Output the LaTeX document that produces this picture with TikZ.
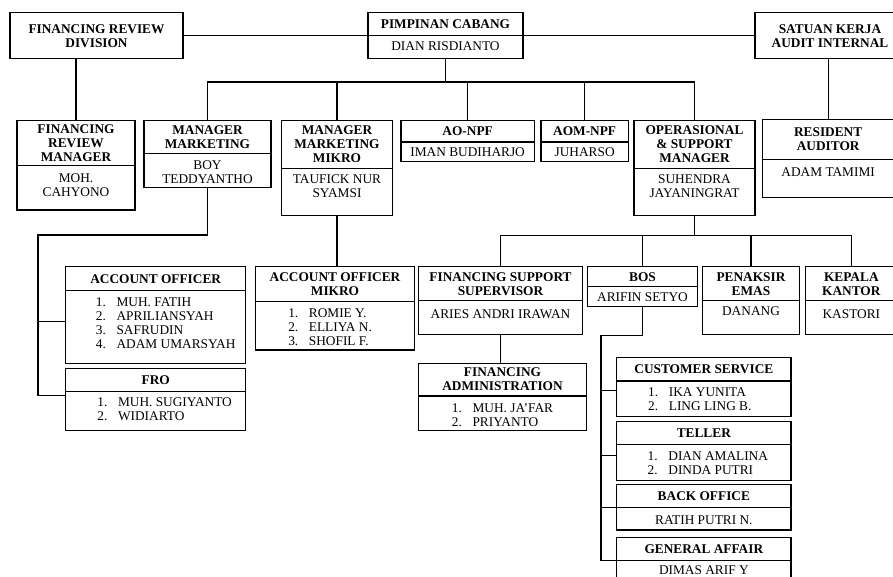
\documentclass[tikz,border=0pt]{standalone}
\usepackage{fontspec}
\setmainfont{Liberation Serif}
\usetikzlibrary{positioning}

% header cell + body cell of one unit: name, x1, y1, x2, y divider, header text, y2
\newcommand{\orgbox}[7]{%
  \node[head, anchor=north west, minimum width={(#4-#2)*0.75pt}, minimum height={(#5-#3)*0.75pt}] (#1) at (#2,#3) {#6};
  \node[body, anchor=north west, minimum width={(#4-#2)*0.75pt}, minimum height={(#7-#5)*0.75pt}] (#1-b) at (#1.south west) {};
}

\begin{document}
\begin{tikzpicture}[x=0.75pt, y=-0.75pt, line width=0.9pt,
  head/.style={draw, inner sep=0pt, outer sep=0pt, align=center, font=\bfseries\fontsize{10}{10.5}\selectfont},
  body/.style={draw, inner sep=0pt, outer sep=0pt},
  txt/.style={inner sep=0pt, align=center, font=\fontsize{10}{10.5}\selectfont}]

\useasboundingbox (0,0) rectangle (893,577);

% top row
\node[head, anchor=north west, minimum width={173*0.75pt}, minimum height={46*0.75pt}] (frd) at (10,12.7) {FINANCING REVIEW\\DIVISION};
\orgbox{pc}{368}{12.7}{523}{35.7}{PIMPINAN CABANG}{58.7}
\node[txt, below=4.3pt of pc-b.north] (pc-t) {DIAN RISDIANTO};
\node[head, anchor=north west, minimum width={150*0.75pt}, minimum height={46*0.75pt}] (sk) at (755,12.7) {SATUAN KERJA\\AUDIT INTERNAL};

% second row
\orgbox{frm}{17}{120.7}{135}{165.3}{FINANCING\\REVIEW\\MANAGER}{210}
\node[txt, below=5.5pt of frm-b.north] (frm-t) {MOH.\\CAHYONO};
\orgbox{mm}{144}{120.7}{271}{153.7}{MANAGER\\MARKETING}{187.3}
\node[txt, below=5pt of mm-b.north] (mm-t) {BOY\\TEDDYANTHO};
\orgbox{mmm}{281.7}{120.7}{392.3}{168.3}{MANAGER\\MARKETING\\MIKRO}{215.3}
\node[txt, below=4.2pt of mmm-b.north] (mmm-t) {TAUFICK NUR\\SYAMSI};
\orgbox{aonpf}{401}{120.7}{534.3}{142}{AO-NPF}{161.7}
\node[txt, below=4pt of aonpf-b.north] (aonpf-t) {IMAN BUDIHARJO};
\orgbox{aomnpf}{541}{120.7}{628.3}{142}{AOM-NPF}{161.7}
\node[txt, below=4pt of aomnpf-b.north] (aomnpf-t) {JUHARSO};
\orgbox{osm}{634}{120.7}{755}{168.3}{OPERASIONAL\\\& SUPPORT\\MANAGER}{215.3}
\node[txt, below=4pt of osm-b.north] (osm-t) {SUHENDRA\\JAYANINGRAT};
\orgbox{ra}{762.3}{119.3}{894}{159.3}{RESIDENT\\AUDITOR}{197.3}
\node[txt, below=5.6pt of ra-b.north] (ra-t) {ADAM TAMIMI};

% marketing staff
\orgbox{ao}{65.7}{266.7}{245.7}{290.7}{ACCOUNT OFFICER}{363.3}
\node[txt, below=3.7pt of ao-b.north, xshift=7.5pt] (ao-t) {\begin{tabular}{@{}r@{\hspace{8pt}}l@{}}1.&MUH. FATIH\\2.&APRILIANSYAH\\3.&SAFRUDIN\\4.&ADAM UMARSYAH\end{tabular}};
\orgbox{fro}{65.7}{368.3}{245.7}{391.3}{FRO}{430.7}
\node[txt, below=3.8pt of fro-b.north, xshift=6.7pt] (fro-t) {\begin{tabular}{@{}r@{\hspace{8pt}}l@{}}1.&MUH. SUGIYANTO\\2.&WIDIARTO\end{tabular}};
\orgbox{aomk}{255.7}{266.7}{414.3}{301.3}{ACCOUNT OFFICER\\MIKRO}{350}
\node[txt, below=4.2pt of aomk-b.north, xshift=-3.7pt] (aomk-t) {\begin{tabular}{@{}r@{\hspace{8pt}}l@{}}1.&ROMIE Y.\\2.&ELLIYA N.\\3.&SHOFIL F.\end{tabular}};

% operational staff
\orgbox{fss}{418.3}{266.7}{582.7}{300.7}{FINANCING SUPPORT\\SUPERVISOR}{334.7}
\node[txt, below=6pt of fss-b.north] (fss-t) {ARIES ANDRI IRAWAN};
\orgbox{bos}{587.3}{266.7}{697.7}{286.7}{BOS}{306.7}
\node[txt, below=4.2pt of bos-b.north] (bos-t) {ARIFIN SETYO};
\orgbox{pe}{702.7}{266.7}{799.3}{300.7}{PENAKSIR\\EMAS}{334.7}
\node[txt, below=3.8pt of pe-b.north] (pe-t) {DANANG};
\orgbox{kk}{805.7}{266.7}{897}{300.7}{KEPALA\\KANTOR}{334.7}
\node[txt, below=6pt of kk-b.north] (kk-t) {KASTORI};
\orgbox{fa}{418.3}{363.3}{586.7}{396}{FINANCING\\ADMINISTRATION}{430.7}
\node[txt, below=4.8pt of fa-b.north] (fa-t) {\begin{tabular}{@{}r@{\hspace{8pt}}l@{}}1.&MUH. JA'FAR\\2.&PRIYANTO\end{tabular}};
\orgbox{cs}{616.7}{357.7}{791}{381}{CUSTOMER SERVICE}{416.7}
\node[txt, below=4pt of cs-b.north, xshift=-3pt] (cs-t) {\begin{tabular}{@{}r@{\hspace{8pt}}l@{}}1.&IKA YUNITA\\2.&LING LING B.\end{tabular}};
\orgbox{tl}{616.7}{421.7}{791}{444.3}{TELLER}{480.3}
\node[txt, below=4pt of tl-b.north, xshift=3pt] (tl-t) {\begin{tabular}{@{}r@{\hspace{8pt}}l@{}}1.&DIAN AMALINA\\2.&DINDA PUTRI\end{tabular}};
\orgbox{bo}{616.7}{484.3}{791}{507.3}{BACK OFFICE}{530}
\node[txt, below=5.5pt of bo-b.north] (bo-t) {RATIH PUTRI N.};
\orgbox{ga}{616.7}{537.7}{791}{560.3}{GENERAL AFFAIR}{600}
\node[txt, below=3.6pt of ga-b.north] (ga-t) {DIMAS ARIF Y};

% connectors
\coordinate (bus1) at (445,82);
\coordinate (mmj) at (38,235);
\coordinate (bus2) at (692,235.7);
\coordinate (bosj) at (601,335.3);
\coordinate (aoj) at ([yshift=4pt]ao-b.west);
\coordinate (csj) at ([yshift=6pt]cs-b.west);
\coordinate (tlj) at ([yshift=5pt]tl-b.west);

\draw (frd.east) -- (pc.south west);
\draw (pc.south east) -- (sk.west);
\draw (frd.south -| frm.north) -- (frm.north);
\draw (sk.south -| ra.north) -- (ra.north);

\draw (pc-b.south) -- (pc-b.south |- bus1);
\draw (mm.north) |- (osm.north |- bus1) -- (osm.north);
\draw (mmm.north) -- (mmm.north |- bus1);
\draw (aonpf.north) -- (aonpf.north |- bus1);
\draw (aomnpf.north) -- (aomnpf.north |- bus1);

\draw (mm-b.south) |- (mmj) |- ([yshift=-3.3pt]fro.south west);
\draw (aoj) -- (aoj -| mmj);
\draw (mmm-b.south) -- (mmm-b.south |- aomk.north);

\draw (osm-b.south) -- (osm-b.south |- bus2);
\draw (fss.north) |- (kk.north |- bus2) -- (kk.north);
\draw (bos.north) -- (bos.north |- bus2);
\draw (pe.north) -- (pe.north |- bus2);
\draw (fss-b.south) -- (fss-b.south |- fa.north);

\draw (bos-b.south) |- (bosj) |- (ga.south west);
\draw (csj) -- (csj -| bosj);
\draw (tlj) -- (tlj -| bosj);
\draw (bo.south west) -- (bo.south west -| bosj);
\end{tikzpicture}
\end{document}
